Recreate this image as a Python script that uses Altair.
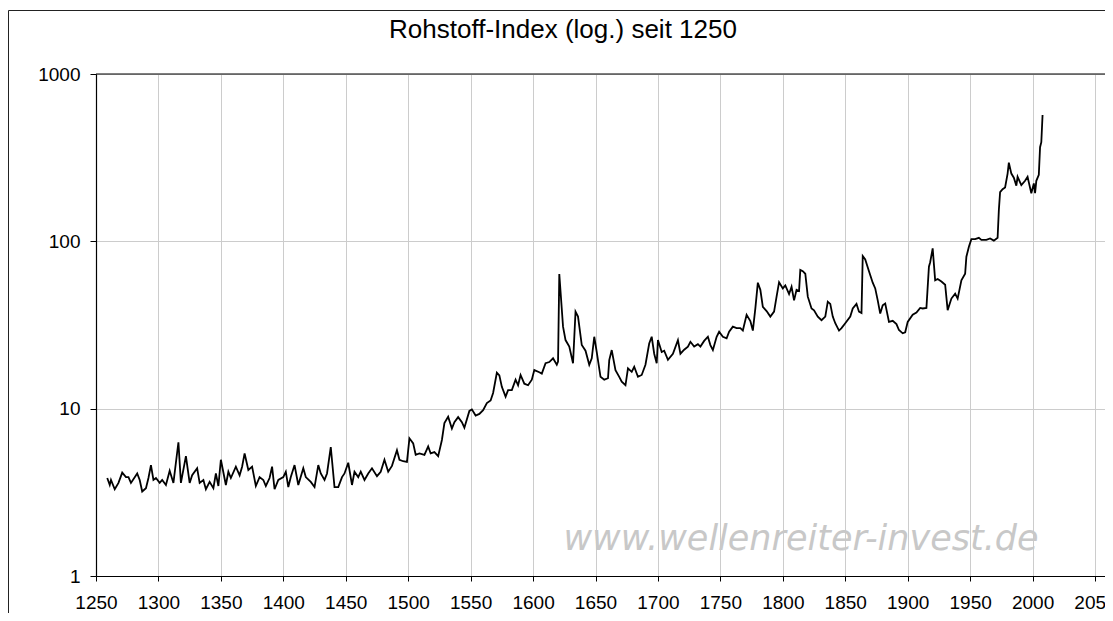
import altair as alt
import pandas as pd

years = [1259, 1261, 1262, 1265, 1268, 1271, 1274, 1276, 1278, 1283, 1285, 1287, 1290, 1292, 1294, 1296, 1298,
         1301, 1303, 1306, 1309, 1312, 1316, 1318, 1322, 1325, 1327, 1331, 1333, 1336, 1338, 1341, 1344, 1346, 1348,
         1350, 1354, 1356, 1358, 1362, 1365, 1367, 1369, 1372, 1375, 1378, 1381, 1384, 1386, 1389, 1391, 1393, 1396,
         1400, 1402, 1404, 1406, 1409, 1412, 1416, 1418, 1422, 1425, 1428, 1430, 1433, 1435, 1438, 1441, 1444, 1447, 1449,
         1452, 1455, 1457, 1460, 1462, 1465, 1468, 1471, 1475, 1478, 1481, 1484, 1487, 1491, 1493, 1496, 1499,
         1501, 1504, 1506, 1509, 1513, 1516, 1518, 1521, 1524, 1527, 1529, 1532, 1535, 1537, 1540, 1543, 1545, 1549,
         1551, 1554, 1557, 1560, 1563, 1566, 1568, 1571, 1573, 1575, 1578, 1580, 1583, 1586, 1588, 1590, 1593, 1596, 1599,
         1601, 1605, 1607, 1610, 1613, 1616, 1619, 1620, 1621, 1624, 1626, 1629, 1632, 1634, 1636, 1639, 1642, 1645, 1647, 1649,
         1651, 1654, 1657, 1660, 1661, 1663, 1666, 1669, 1671, 1674, 1676, 1679, 1681, 1684, 1687, 1690, 1693, 1695, 1697, 1699,
         1700, 1703, 1705, 1708, 1712, 1716, 1718, 1721, 1724, 1726, 1729, 1732, 1734, 1737, 1740, 1742, 1744, 1747, 1749,
         1752, 1755, 1757, 1760, 1763, 1766, 1768, 1771, 1774, 1776, 1778, 1780, 1782, 1784, 1787, 1790, 1793, 1795, 1797,
         1800, 1802, 1805, 1807, 1809, 1811, 1813, 1814, 1816, 1818, 1820, 1823, 1825, 1828, 1831, 1834, 1836, 1838, 1840,
         1842, 1845, 1847, 1850, 1854, 1856, 1859, 1861, 1863, 1864, 1866, 1869, 1872, 1874, 1876, 1878, 1880, 1882, 1885,
         1888, 1891, 1893, 1896, 1898, 1900, 1904, 1907, 1910, 1912, 1915, 1917, 1918, 1920, 1922, 1924, 1927, 1930, 1932,
         1935, 1938, 1940, 1943, 1946, 1947, 1949, 1951, 1954, 1957, 1959, 1963, 1966, 1969, 1972, 1973, 1974, 1976, 1978,
         1980, 1981, 1983, 1985, 1987, 1988, 1991, 1994, 1996, 1997, 1999, 2001, 2002, 2003, 2005, 2006, 2007, 2008]

values = [3.85, 3.5, 3.75, 3.3, 3.6, 4.15, 3.9, 3.9, 3.6, 4.1, 3.75, 3.2, 3.35, 3.85, 4.6, 3.75, 3.85,
          3.6, 3.75, 3.5, 4.25, 3.6, 6.3, 3.6, 5.2, 3.6, 4.0, 4.4, 3.6, 3.75, 3.3, 3.65, 3.35, 4.1, 3.45,
          4.95, 3.5, 4.2, 3.85, 4.5, 4.0, 4.5, 5.4, 4.3, 4.5, 3.45, 3.9, 3.75, 3.45, 3.85, 4.5, 3.3, 3.75,
          3.9, 4.2, 3.4, 3.9, 4.6, 3.5, 4.4, 3.9, 3.65, 3.4, 4.6, 4.1, 3.75, 4.1, 5.9, 3.4, 3.4, 3.9, 4.1,
          4.75, 3.5, 4.2, 3.9, 4.2, 3.75, 4.1, 4.4, 3.95, 4.2, 4.95, 4.2, 4.55, 5.65, 4.95, 4.85, 4.8,
          6.65, 6.2, 5.3, 5.4, 5.3, 5.95, 5.4, 5.5, 5.2, 6.5, 8.2, 8.95, 7.6, 8.3, 8.9, 8.3, 7.7, 9.7,
          9.9, 9.1, 9.3, 9.8, 10.8, 11.2, 12.4, 16.4, 15.8, 13.5, 11.8, 12.9, 12.9, 14.9, 13.8, 15.9, 14.1, 13.8, 14.9,
          17.0, 16.5, 16.2, 18.7, 19.0, 20.0, 18.3, 19.1, 63.8, 30.9, 25.7, 23.5, 18.7, 38.0, 35.5, 24.0, 22.2, 18.3, 20.0, 26.9,
          21.8, 15.5, 14.9, 15.2, 19.5, 22.4, 17.0, 15.5, 14.5, 13.8, 17.4, 16.6, 17.8, 15.5, 15.9, 18.3, 24.5, 26.9, 21.3, 18.7,
          25.7, 21.8, 22.2, 19.6, 21.3, 25.7, 21.3, 22.5, 23.5, 25.1, 23.5, 24.3, 23.5, 25.4, 26.9, 24.0, 22.4, 26.9, 28.8,
          26.9, 26.3, 28.8, 30.9, 30.3, 30.3, 29.3, 36.4, 33.4, 29.3, 39.7, 56.6, 51.3, 40.6, 38.3, 35.5, 38.0, 46.7, 57.0,
          52.3, 54.5, 48.4, 53.5, 44.4, 51.3, 50.5, 67.5, 66.3, 64.0, 46.7, 39.7, 38.7, 35.5, 33.8, 35.5, 43.6, 42.3, 35.5,
          32.4, 29.3, 30.3, 32.4, 35.5, 39.7, 42.3, 38.0, 37.3, 81.7, 78.0, 66.3, 56.6, 52.3, 44.4, 37.0, 41.5, 42.5, 33.0,
          33.5, 32.0, 29.5, 28.2, 28.6, 33.0, 36.4, 37.5, 40.0, 39.7, 40.0, 70.5, 75.0, 90.8, 58.5, 59.5, 57.5, 55.0, 38.8,
          45.5, 48.7, 45.5, 58.5, 64.0, 80.9, 92.9, 103, 103, 105, 102, 102, 104, 101, 105, 154, 197, 205, 210,
          254, 295, 254, 240, 215, 243, 217, 230, 243, 225, 194, 222, 194, 230, 250, 365, 391, 569]

x_ticks = list(range(1250, 2051, 50))
y_ticks = [1, 10, 100, 1000]
title_text = "Rohstoff-Index (log.) seit 1250"
watermark = "www.wellenreiter-invest.de"

df = pd.DataFrame({"Jahr": years, "Index": values})

FONT = "Liberation Sans"

base = alt.Chart(df)

line = base.mark_line(color="black", strokeWidth=1.8, clip=True).encode(
    x=alt.X("Jahr:Q",
            scale=alt.Scale(domain=[1250, 2058], nice=False, zero=False),
            axis=alt.Axis(values=x_ticks, format="d", title=None, grid=True,
                          gridColor="#cccccc", gridWidth=1,
                          domainColor="black", domainWidth=1.2,
                          tickColor="black", tickSize=5, tickWidth=1,
                          labelFont=FONT, labelFontSize=19, labelColor="black",
                          labelPadding=12, labelFlush=False, labelOverlap=False)),
    y=alt.Y("Index:Q",
            scale=alt.Scale(type="log", domain=[1, 1000], nice=False),
            axis=alt.Axis(values=y_ticks, format="d", title=None, grid=True,
                          gridColor="#cccccc", gridWidth=1,
                          domainColor="black", domainWidth=1.2,
                          tickColor="black", tickSize=6, tickWidth=1,
                          labelFont=FONT, labelFontSize=19, labelColor="black",
                          labelPadding=10, labelFlush=False, labelOverlap=False)),
)

top_rule = alt.Chart(pd.DataFrame({"v": [1000]})).mark_rule(color="black", strokeWidth=1.2).encode(
    y=alt.Y("v:Q", scale=alt.Scale(type="log", domain=[1, 1000], nice=False))
)

frame_top = alt.Chart(pd.DataFrame({"k": [0]})).mark_rule(color="#222222", strokeWidth=1).encode(
    x=alt.value(-87.5), x2=alt.value(1012), y=alt.value(-63.5)
)
frame_left = alt.Chart(pd.DataFrame({"k": [0]})).mark_rule(color="#222222", strokeWidth=1).encode(
    x=alt.value(-87.5), y=alt.value(-63.5), y2=alt.value(540)
)

title_mark = alt.Chart(pd.DataFrame({"t": [title_text]})).mark_text(
    font=FONT, fontSize=26, color="black", align="center", baseline="middle"
).encode(text="t:N", x=alt.value(467), y=alt.value(-44))

wm = alt.Chart(pd.DataFrame({"t": [watermark]})).mark_text(
    font="DejaVu Sans", fontSize=35, fontStyle="italic", color="#c8c8c8",
    align="center", baseline="alphabetic"
).encode(text="t:N", x=alt.value(705), y=alt.value(476))

chart = alt.layer(wm, line, top_rule, frame_top, frame_left, title_mark).properties(
    width=1009, height=502,
    autosize=alt.AutoSizeParams(type="none"),
    padding={"left": 88, "top": 66, "right": 0, "bottom": 37},
).configure_view(stroke=None).configure(background="white")

chart.save("out.html", embed_options={"renderer": "svg", "actions": False})
